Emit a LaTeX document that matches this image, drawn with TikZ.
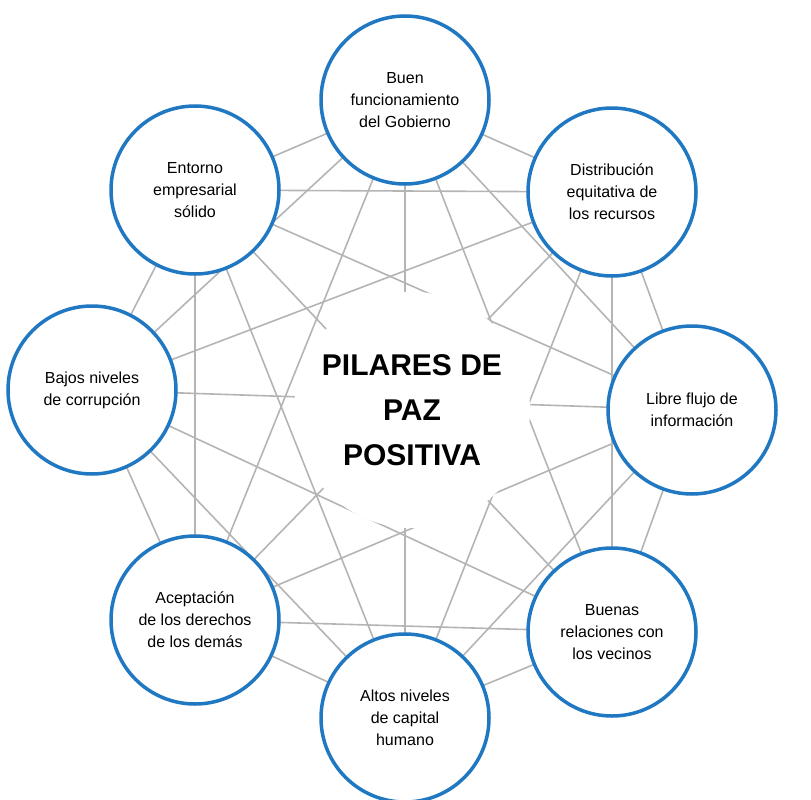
\documentclass[tikz,border=0pt]{standalone}
\usepackage{fontspec}
\setmainfont{Liberation Sans}
\usetikzlibrary{backgrounds}
\definecolor{pilarblue}{HTML}{1F78C1}
\definecolor{linkgray}{HTML}{B4B4B4}
\tikzset{
  pilar/.style={circle, draw=pilarblue, line width=3.5pt, fill=white,
    minimum size=168pt, align=center, font=\fontsize{16}{22}\selectfont},
  link/.style={draw=linkgray, line width=1.6pt}
}

\begin{document}
\begin{tikzpicture}[x=1pt, y=-1pt]
  \useasboundingbox (0,0) rectangle (811,800);

  \node[pilar] (gob) at (405,100) {Buen\\funcionamiento\\del Gobierno};
  \node[pilar] (dist) at (612,192) {Distribución\\equitativa de\\los recursos};
  \node[pilar] (info) at (692,410) {Libre flujo de\\información};
  \node[pilar] (vec) at (612,632) {Buenas\\relaciones con\\los vecinos};
  \node[pilar] (cap) at (405,718) {Altos niveles\\de capital\\humano};
  \node[pilar] (der) at (195,620) {Aceptación\\de los derechos\\de los demás};
  \node[pilar] (corr) at (92,390) {Bajos niveles\\de corrupción};
  \node[pilar] (emp) at (195,190) {Entorno\\empresarial\\sólido};

  \node[font=\bfseries\fontsize{30}{45}\selectfont, align=center] (title) at (412,410)
    {PILARES DE\\PAZ\\POSITIVA};

  % every pilar linked to every other one
  \begin{scope}[on background layer]
    \foreach \a/\rest in {gob/{dist,info,vec,cap,der,corr,emp},
                          dist/{info,vec,cap,der,corr,emp},
                          info/{vec,cap,der,corr,emp},
                          vec/{cap,der,corr,emp},
                          cap/{der,corr,emp},
                          der/{corr,emp},
                          corr/{emp}}
      \foreach \b in \rest
        \draw[link] (\a.center) -- (\b.center);
    \fill[white] (title.center) circle (118pt);
  \end{scope}
\end{tikzpicture}
\end{document}
